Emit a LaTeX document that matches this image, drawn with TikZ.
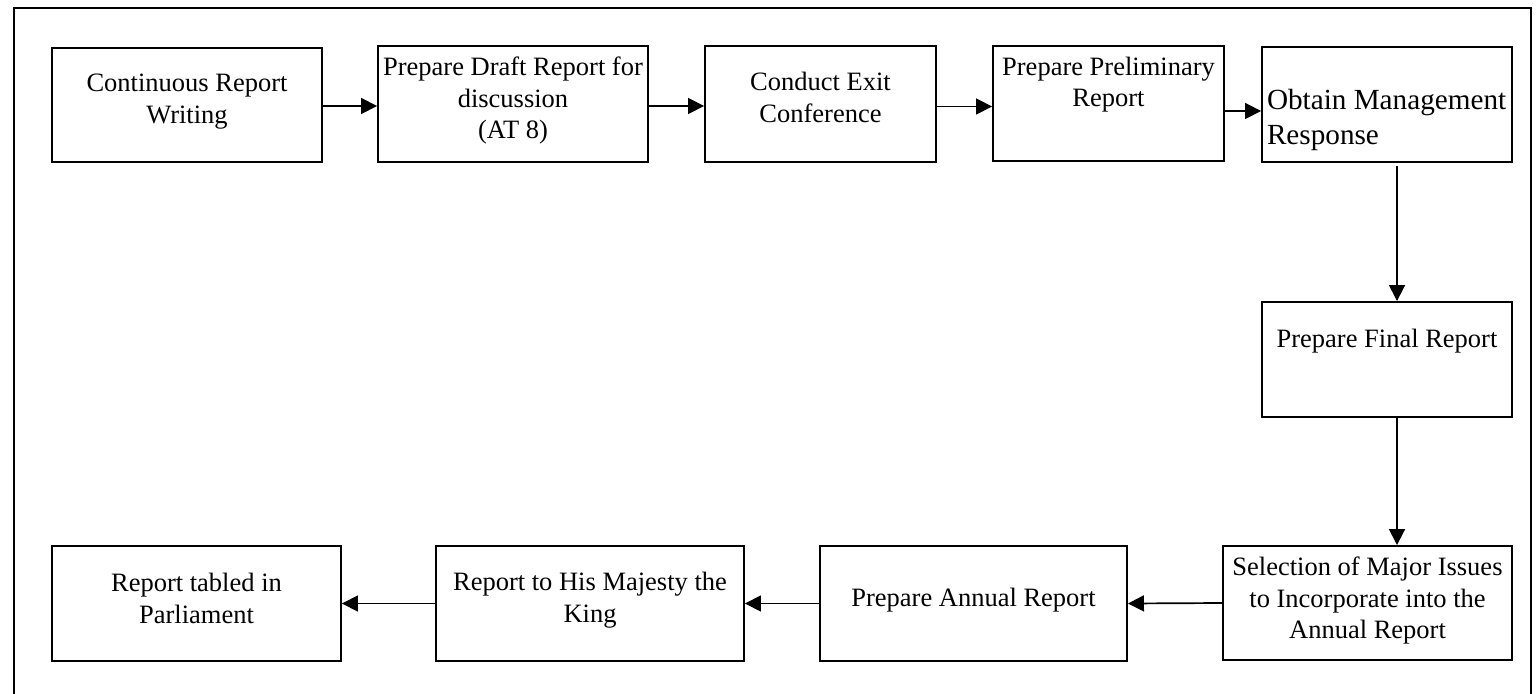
\documentclass[tikz,border=0pt]{standalone}
\usepackage{fontspec}
\setmainfont{Liberation Serif}
\usetikzlibrary{arrows.meta}
\newcommand{\btxt}[4]{\parbox[c][#2][t]{#1}{\vspace*{#3}\centering\strut #4}}
\newcommand{\ltxt}[4]{\parbox[c][#2][t]{#1}{\vspace*{#3}\raggedright\leftskip=2.5pt\strut #4}}
\begin{document}
\begin{tikzpicture}[x=0.5pt,y=-0.5pt,
  stepbox/.style={draw, line width=0.95pt, inner sep=0pt, font=\fontsize{13.25}{15.6}\selectfont},
  bigbox/.style={stepbox, font=\fontsize{14.6}{17.5}\selectfont},
  conn/.style={line width=0.85pt, -{Triangle[length=8pt,width=8pt]}},
  frame/.style={line width=1.1pt}]
\useasboundingbox (0,0) rectangle (1540,694);
\draw[frame] (14,710) -- (14,8) -- (1531,8) -- (1531,710);

\node[stepbox] (b1) at (187,105) {\btxt{135pt}{57pt}{11pt}{Continuous Report\\Writing}};
\node[stepbox] (b2) at (513,104) {\btxt{135pt}{58pt}{4pt}{Prepare Draft Report for\\discussion\\(AT 8)}};
\node[stepbox] (b3) at (820.5,104) {\btxt{115.5pt}{58pt}{11.5pt}{Conduct Exit\\Conference}};
\node[stepbox] (b4) at (1108.5,103.5) {\btxt{115.5pt}{57.5pt}{3.7pt}{Prepare Preliminary\\Report}};
\node[bigbox] (b5) at (1387,104.5) {\ltxt{125pt}{57.5pt}{19.1pt}{Obtain Management\\Response}};
\node[stepbox] (b6) at (1387,359.5) {\btxt{125pt}{57.5pt}{11.7pt}{Prepare Final Report}};
\node[stepbox] (b7) at (1367.5,603) {\btxt{144.5pt}{57pt}{4pt}{Selection of Major Issues\\to Incorporate into the\\Annual Report}};
\node[stepbox] (b8) at (973.5,603.5) {\btxt{153.5pt}{57.5pt}{19.2pt}{Prepare Annual Report}};
\node[stepbox] (b9) at (590,603.5) {\btxt{154pt}{57.5pt}{11.5pt}{Report to His Majesty the\\King}};
\node[stepbox] (b10) at (196.5,603.5) {\btxt{144.5pt}{57.5pt}{12pt}{Report tabled in\\Parliament}};

\draw[conn] ([yshift=-0.5pt]b1.east) -- ([yshift=-0.5pt]b1.east -| b2.west);
\draw[conn] ([yshift=-1pt]b2.east) -- ([yshift=-1pt]b2.east -| b3.west);
\draw[conn] ([yshift=-1.25pt]b3.east) -- ([yshift=-1.25pt]b3.east -| b4.west);
\draw[conn] ([yshift=-3.75pt]b4.east) -- ([yshift=-3.75pt]b4.east -| b5.west);
\draw[conn] ([xshift=5pt,yshift=-1.5pt]b5.south) -- ([xshift=5pt]b5.south |- b6.north);
\draw[conn] ([xshift=5pt]b6.south) -- ([xshift=5pt]b6.south |- b7.north);
\draw[conn] (b7.west) -- (b8.east);
\draw[conn] (b8.west) -- (b9.east);
\draw[conn] (b9.west) -- (b10.east);
\end{tikzpicture}
\end{document}
